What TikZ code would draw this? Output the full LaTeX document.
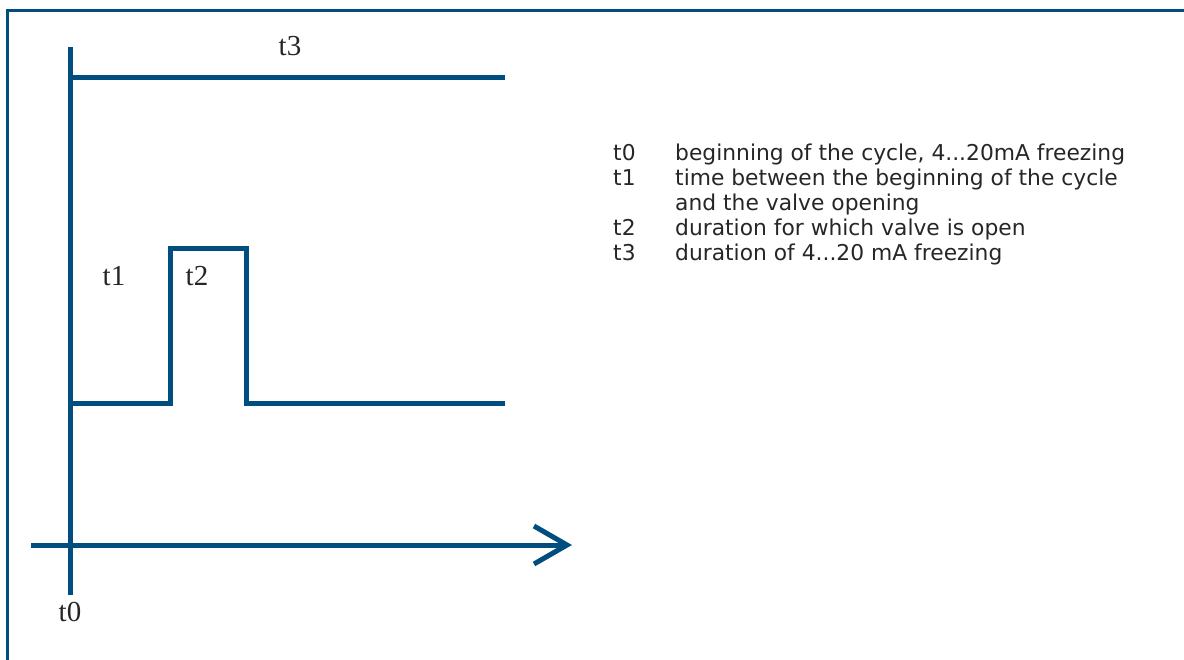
\documentclass[tikz,border=0pt]{standalone}
\usepackage{fontspec}
\setmainfont{Liberation Serif}
\newfontfamily\keyfont{DejaVu Sans}
\usetikzlibrary{positioning,arrows.meta}
\definecolor{sigblue}{RGB}{0,78,128}

\begin{document}
\begin{tikzpicture}[x=1pt, y=-1pt,
  sig/.style={draw=sigblue, line width=5pt},
  tlabel/.style={font=\fontsize{29}{34}\selectfont, inner sep=0pt, text=black!85},
  keytag/.style={font=\keyfont\fontsize{21.8}{25}\selectfont, anchor=base west,
                 inner sep=0pt, text=black!85}]
\useasboundingbox (0,0) rectangle (1184,659);
% frame
\draw[sigblue, line width=3pt] (7,662) -- (7,10) -- (1186,10);

% axes
\coordinate (ytop) at (70,47);
\coordinate (ybot) at (70,595);
\coordinate (xl) at (31,545);
\coordinate (xr) at (572,545);
\draw[sig] (ybot) -- (ytop);
\draw[sig, -{Straight Barb[length=33pt, width=38pt, line width=5pt]}] (xl) -- (xr);

% t3 window
\coordinate (w0) at (70,77);
\coordinate (w1) at (505,77);
\draw[sig] (w0) -- (w1);

% valve pulse
\coordinate (p0) at (70,403);
\coordinate (p1) at (170,403);
\coordinate (p2) at (170,248);
\coordinate (p3) at (246,248);
\coordinate (p4) at (246,403);
\coordinate (p5) at (505,403);
\draw[sig] (p0) -- (p1) -- (p2) -- (p3) -- (p4) -- (p5);

\node[tlabel] (t0) at (70,612) {t0};
\node[tlabel] (t1) at (114,276) {t1};
\node[tlabel] (t2) at (197,276) {t2};
\node[tlabel] (t3) at (290,46) {t3};

% legend
\node[keytag] (k0) at (613,160) {t0};
\node[keytag] (k1) at (613,185) {t1};
\node[keytag] (k2) at (613,235) {t2};
\node[keytag] (k3) at (613,260) {t3};
\node[keytag] (d0) at (675,160) {beginning of the cycle, 4...20mA freezing};
\node[keytag] (d1) at (675,185) {time between the beginning of the cycle};
\node[keytag] (d1b) at (675,210) {and the valve opening};
\node[keytag] (d2) at (675,235) {duration for which valve is open};
\node[keytag] (d3) at (675,260) {duration of 4...20 mA freezing};
\end{tikzpicture}
\end{document}
